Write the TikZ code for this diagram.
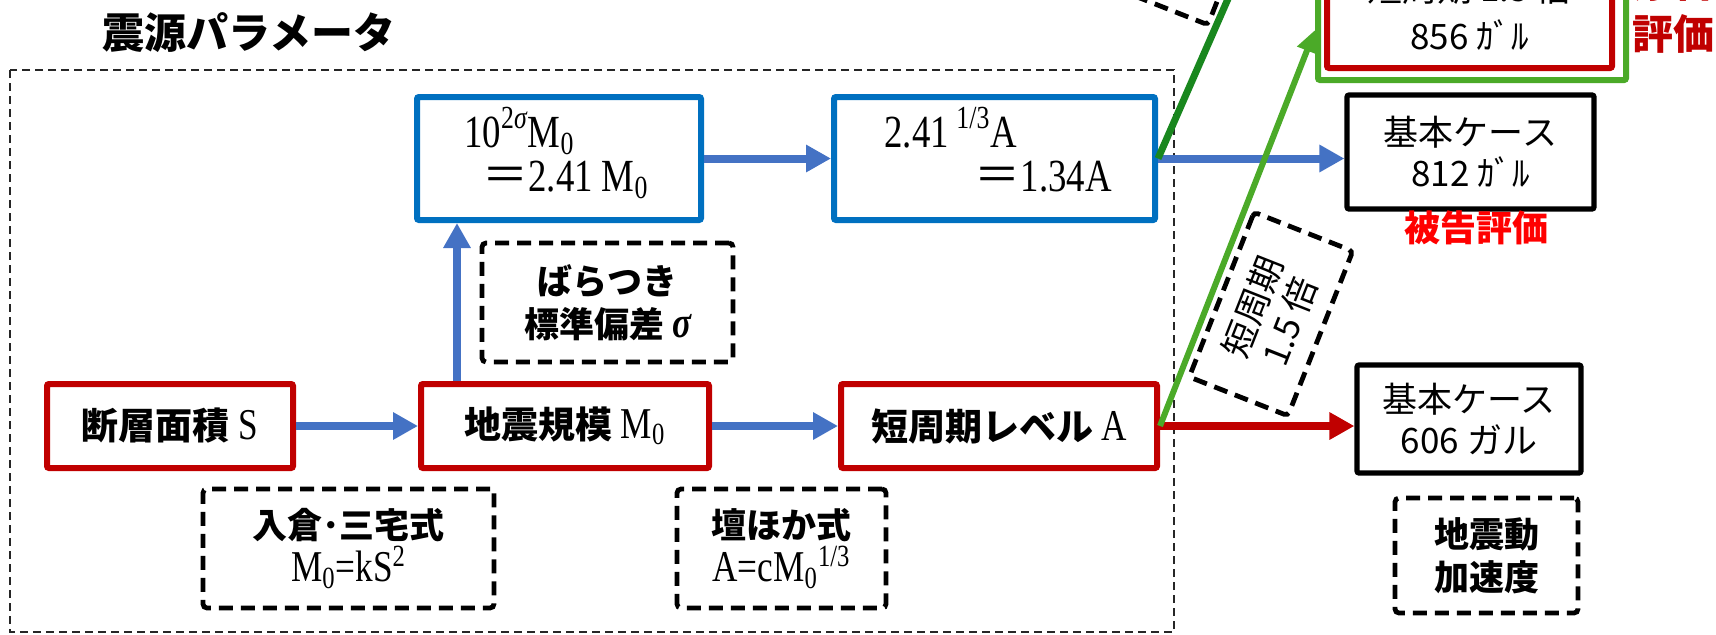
\documentclass[tikz,border=0pt]{standalone}
\usepackage{fontspec}
\setmainfont{Liberation Serif}
\newfontfamily\jp{Noto Sans CJK JP}
\newfontfamily\mc[FakeStretch=0.8]{Liberation Serif}
\newcommand\serifpart[1]{{\mc\mdseries\fontsize{22pt}{22pt}\selectfont #1}}
\usetikzlibrary{arrows.meta}
\definecolor{boxblue}{RGB}{0,112,192}
\definecolor{arrblue}{RGB}{68,114,196}
\definecolor{boxred}{RGB}{192,0,0}
\definecolor{dkgreen}{RGB}{25,135,30}
\definecolor{ltgreen}{RGB}{75,170,40}
\definecolor{brightred}{RGB}{255,0,0}
\begin{document}
\begin{tikzpicture}[x=0.5pt,y=-0.5pt,
  bluebox/.style={draw=boxblue,line width=3pt,rounded corners=1pt,inner sep=0pt},
  redbox/.style={draw=boxred,line width=3pt,rounded corners=1pt,inner sep=0pt,align=center},
  grnbox/.style={draw=ltgreen,line width=3pt,rounded corners=1pt,inner sep=0pt},
  blkbox/.style={draw=black,line width=2.6pt,rounded corners=1pt,inner sep=0pt,align=center},
  dbox/.style={draw=black,line width=2.4pt,dash pattern=on 7pt off 4pt,rounded corners=2pt,inner sep=0pt,align=center},
  bigframe/.style={draw=black!85,line width=1.1pt,dash pattern=on 4pt off 2.5pt},
  barr/.style={draw=arrblue,line width=4pt,-{Triangle[length=12.5pt,width=13pt]}},
  rarr/.style={draw=boxred,line width=4pt,-{Triangle[length=12.5pt,width=13pt]}},
  garr/.style={draw=ltgreen,line width=3pt,-{Triangle[length=11pt,width=10pt]}},
  gline/.style={draw=dkgreen,line width=3.5pt},
  titlefont/.style={font=\jp\bfseries\fontsize{21pt}{24pt}\selectfont},
  lbl/.style={font=\jp\bfseries\fontsize{18.5pt}{21pt}\selectfont},
  dlbl/.style={font=\jp\bfseries\fontsize{17.5pt}{21.5pt}\selectfont},
  klbl/.style={font=\jp\fontsize{17.5pt}{20.5pt}\selectfont},
  toplbl/.style={font=\jp\fontsize{17.5pt}{24pt}\selectfont},
  rlbl/.style={font=\jp\fontsize{17.5pt}{20pt}\selectfont},
  serif/.style={font=\mc\fontsize{23pt}{26pt}\selectfont,inner sep=0pt},
  evalred/.style={font=\jp\bfseries\fontsize{20.5pt}{26pt}\selectfont,text=boxred,align=center},
  evalbright/.style={font=\jp\bfseries\fontsize{18pt}{21pt}\selectfont,text=brightred}
]
\useasboundingbox (0,0) rectangle (1716,634);

% title and frame
\node[titlefont] (title) at (249,33) {震源パラメータ};
\draw[bigframe] (10,70) rectangle (1174,632);

% blue boxes
\node[bluebox,minimum width=142pt,minimum height=61.5pt] (B1) at (559,158.5) {};
\node[serif,anchor=base west] (B1a) at (464,147) {10\textsuperscript{2{\itshape σ}}M\textsubscript{0}};
\node[serif,anchor=base west] (B1b) at (482,191) {{\jp ＝}2.41 M\textsubscript{0}};
\node[bluebox,minimum width=160.5pt,minimum height=61.5pt] (B2) at (994.5,158.5) {};
\node[serif,anchor=base west] (B2a) at (884,147) {2.41\,\textsuperscript{1/3}A};
\node[serif,anchor=base east] (B2b) at (1112,191) {{\jp ＝}1.34A};

% red boxes
\node[redbox,lbl,minimum width=123pt,minimum height=42pt] (R1) at (170,426) {断層面積 \serifpart{S}};
\node[redbox,lbl,minimum width=144pt,minimum height=42pt] (R2) at (565,426) {地震規模 \serifpart{M\textsubscript{0}}};
\node[redbox,lbl,minimum width=158pt,minimum height=42pt] (R3) at (999,426) {短周期レベル \serifpart{A}};

% dashed label boxes
\node[dbox,dlbl,minimum width=125.5pt,minimum height=59.5pt] (D1) at (607.5,302.5) {ばらつき\\標準偏差 {\mc\bfseries\itshape\fontsize{22pt}{22pt}\selectfont σ}};
\node[dbox,dlbl,minimum width=145.5pt,minimum height=59.5pt] (D2) at (348.5,548.5) {入倉･三宅式\\\serifpart{M\textsubscript{0}=kS\textsuperscript{2}}};
\node[dbox,dlbl,minimum width=104.5pt,minimum height=59.5pt] (D3) at (781.5,548.5) {壇ほか式\\\serifpart{A=cM\textsubscript{0}\textsuperscript{1/3}}};

% right column
\node[blkbox,klbl,minimum width=123.5pt,minimum height=57pt] (K1) at (1470.5,152) {基本ケース\\812 ｶﾞﾙ};
\node[evalbright] (hikoku) at (1476,228) {被告評価};
\node[blkbox,klbl,minimum width=112pt,minimum height=54pt] (K2) at (1469,419) {基本ケース\\606 ガル};
\node[dbox,dlbl,minimum width=91.5pt,minimum height=57.5pt] (D4) at (1486.5,555.5) {地震動\\加速度};

% top box (cut by the page edge)
\node[grnbox,minimum width=154pt,minimum height=67.5pt] (G) at (1472,12.5) {};
\node[redbox,toplbl,minimum width=142.5pt,minimum height=56.5pt] (T) at (1469.5,11.5) {短周期 1.5 倍\\856 ｶﾞﾙ};
\node[evalred] (genkoku) at (1673,8) {原告\\評価};

% rotated dashed boxes
\node[dbox,rlbl,minimum width=88.5pt,minimum height=53pt,rotate=68.5] (L1) at (1271,314) {短周期\\1.5 倍};
\node[dbox,minimum width=88.5pt,minimum height=53pt,rotate=68.5] (L0) at (1191,-77) {};

% connectors
\coordinate (vx) at (457,0);
\coordinate (gy) at (0,30);
\coordinate (gend) at (1245,-40);
\draw[barr] (R1.east) -- (R2.west);
\draw[barr] (R2.east) -- (R3.west);
\draw[barr] (R2.north -| vx) -- (B1.south -| vx);
\draw[barr] (B1.east) -- (B2.west);
\draw[barr] (B2.east) -- (B2.east -| K1.west);
\draw[rarr] (R3.east) -- (R3.east -| K2.west);
\draw[gline] (B2.east) -- (gend);
\draw[garr] (R3.east) -- (G.west |- gy);
\end{tikzpicture}
\end{document}
